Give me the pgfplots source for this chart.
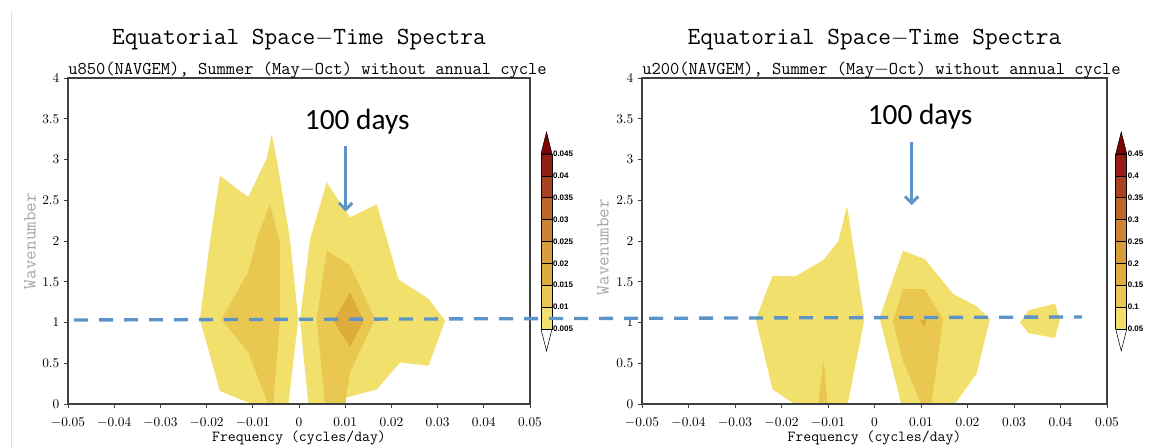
\documentclass[border=0pt]{standalone}
\usepackage{fontspec}
\usepackage{pgfplots}
\pgfplotsset{compat=1.18}
\usetikzlibrary{arrows.meta}
\newfontfamily\calibri{Carlito}
\newfontfamily\helv{Liberation Sans}

\definecolor{levA}{RGB}{242,224,108}
\definecolor{levB}{RGB}{233,199,80}
\definecolor{levC}{RGB}{222,172,60}
\definecolor{cbD}{RGB}{214,158,58}
\definecolor{cbE}{RGB}{203,132,52}
\definecolor{cbF}{RGB}{188,102,42}
\definecolor{cbG}{RGB}{168,66,32}
\definecolor{cbH}{RGB}{148,30,22}
\definecolor{cbTop}{RGB}{125,5,5}
\definecolor{annblue}{RGB}{92,147,200}

\pgfplotsset{
  spec/.style={
    scale only axis, anchor=south west,
    height=244.5pt,
    xmin=-0.05, xmax=0.05, ymin=0, ymax=4,
    xtick={-0.05,-0.04,-0.03,-0.02,-0.01,0,0.01,0.02,0.03,0.04,0.05},
    ytick={0,0.5,1,1.5,2,2.5,3,3.5,4},
    scaled x ticks=false,
    xticklabel style={/pgf/number format/fixed,/pgf/number format/precision=2,yshift=-4pt},
    tick label style={font=\fontsize{10}{12}\selectfont},
    tick align=outside, xtick pos=bottom, ytick pos=left,
    major tick length=3pt,
    axis line style={black!75,line width=0.8pt},
    tick style={black!75,line width=0.6pt},
    axis on top, clip=false,
    xlabel={\ttfamily\fontsize{11.5}{13}\selectfont Frequency (cycles/day)},
    xlabel style={at={(axis description cs:0.5,0)},anchor=center,yshift=-25.5pt},
  },
  cbar/.style={
    scale only axis, anchor=south west,
    width=8.25pt, height=131.25pt,
    xmin=0, xmax=1, clip=false,
    scaled y ticks=false,
    axis line style={draw=none}, xtick=\empty,
    yticklabel pos=right, major tick length=0pt,
    yticklabel style={font=\helv\bfseries\fontsize{6}{7}\selectfont,inner sep=0.6pt},
  },
}

\begin{document}
\begin{tikzpicture}
\useasboundingbox (0,0) rectangle (862.5pt,336pt);
\draw[black!12,line width=0.8pt] (8.5pt,0) -- (8.5pt,328pt);

% ---------- left panel: u850 ----------
\begin{axis}[spec, name=L, at={(51pt,33pt)}, width=346.5pt]
% 0.005-0.01
\addplot[fill=levA,draw=none] coordinates {
  (-0.00592,3.31)(-0.00484,3.01)(-0.00195,2.02)(-0.00014,1.04)(-0.00231,0)
  (-0.01026,0)(-0.01712,0.16)(-0.02146,1.04)(-0.01929,1.98)(-0.01712,2.80)
  (-0.01098,2.54)(-0.00701,3.01)(-0.00592,3.31)};
\addplot[fill=levA,draw=none] coordinates {
  (0.0060,2.72)(0.01105,2.29)(0.01684,2.45)(0.02153,1.53)(0.02803,1.29)
  (0.03165,1.02)(0.02803,0.47)(0.02189,0.51)(0.01684,0.18)(0.01033,0.08)
  (0.00997,0)(0.00202,0)(0.00022,1.04)(0.00238,2.02)(0.0060,2.72)};
% 0.01-0.015
\addplot[fill=levB,draw=none] coordinates {
  (-0.00629,2.45)(-0.00412,1.98)(-0.00412,1.04)(-0.00556,0)(-0.00665,0)
  (-0.01098,0.63)(-0.01676,1.04)(-0.01098,1.62)(-0.00918,2.02)(-0.00629,2.45)};
\addplot[fill=levB,draw=none] coordinates {
  (0.0060,1.88)(0.01105,1.70)(0.01647,1.04)(0.01105,0.39)(0.00997,0)
  (0.00564,0)(0.00383,1.04)(0.0060,1.88)};
% 0.015-0.02
\addplot[fill=levC,draw=none] coordinates {
  (0.01105,1.37)(0.01395,1.02)(0.01105,0.70)(0.00744,1.02)(0.01105,1.37)};
\draw[annblue,line width=2.2pt,-{Straight Barb[length=5pt,width=10pt]}]
  (axis cs:0.0101,3.16) -- (axis cs:0.0101,2.36);
\node[font=\calibri\fontsize{22}{24}\selectfont] at (axis cs:0.0126,3.46) {100 days};
\end{axis}

\begin{axis}[cbar, at={(405.75pt,89.25pt)}, ymin=0.005, ymax=0.045,
  ytick={0.005,0.01,0.015,0.02,0.025,0.03,0.035,0.04,0.045},
  yticklabels={0.005,0.01,0.015,0.02,0.025,0.03,0.035,0.04,0.045}]
\addplot[fill=white,draw=black,line width=0.4pt] coordinates {(0,0.005)(1,0.005)(0.5,0)(0,0.005)};
\addplot[fill=levA,draw=black,line width=0.4pt] coordinates {(0,0.005)(1,0.005)(1,0.01)(0,0.01)(0,0.005)};
\addplot[fill=levB,draw=black,line width=0.4pt] coordinates {(0,0.01)(1,0.01)(1,0.015)(0,0.015)(0,0.01)};
\addplot[fill=levC,draw=black,line width=0.4pt] coordinates {(0,0.015)(1,0.015)(1,0.02)(0,0.02)(0,0.015)};
\addplot[fill=cbD,draw=black,line width=0.4pt] coordinates {(0,0.02)(1,0.02)(1,0.025)(0,0.025)(0,0.02)};
\addplot[fill=cbE,draw=black,line width=0.4pt] coordinates {(0,0.025)(1,0.025)(1,0.03)(0,0.03)(0,0.025)};
\addplot[fill=cbF,draw=black,line width=0.4pt] coordinates {(0,0.03)(1,0.03)(1,0.035)(0,0.035)(0,0.03)};
\addplot[fill=cbG,draw=black,line width=0.4pt] coordinates {(0,0.035)(1,0.035)(1,0.04)(0,0.04)(0,0.035)};
\addplot[fill=cbH,draw=black,line width=0.4pt] coordinates {(0,0.04)(1,0.04)(1,0.045)(0,0.045)(0,0.04)};
\addplot[fill=cbTop,draw=black,line width=0.4pt] coordinates {(0,0.045)(1,0.045)(0.5,0.05)(0,0.045)};
\end{axis}

% ---------- right panel: u200 ----------
\begin{axis}[spec, name=R, at={(481.5pt,33pt)}, width=348.75pt]
% 0.05-0.1
\addplot[fill=levA,draw=none] coordinates {
  (-0.0059,2.43)(-0.00216,1.04)(-0.00576,0)(-0.01727,0)(-0.02194,0.18)
  (-0.02554,1.04)(-0.02194,1.57)(-0.01691,1.57)(-0.01094,1.77)(-0.00777,2.00)
  (-0.0059,2.43)};
\addplot[fill=levA,draw=none] coordinates {
  (0.00612,1.88)(0.01079,1.78)(0.01691,1.35)(0.02194,1.20)(0.02482,1.04)
  (0.02194,0.37)(0.01727,0)(0.00576,0)(0.00108,1.06)(0.00612,1.88)};
\addplot[fill=levA,draw=none] coordinates {
  (0.0313,1.00)(0.0331,1.15)(0.0388,1.23)(0.0399,1.04)(0.0388,0.81)
  (0.0331,0.87)(0.0313,1.00)};
% 0.1-0.15
\addplot[fill=levB,draw=none] coordinates {
  (-0.01094,0.53)(-0.01007,0)(-0.01209,0)(-0.01094,0.53)};
\addplot[fill=levB,draw=none] coordinates {
  (0.00612,1.41)(0.01079,1.41)(0.01475,1.04)(0.01223,0)(0.01007,0)
  (0.00612,0.53)(0.00396,1.02)(0.00612,1.41)};
% 0.15-0.2
\addplot[fill=levC,draw=none] coordinates {
  (0.0097,1.02)(0.01115,1.04)(0.0108,0.94)(0.0097,1.02)};
\draw[annblue,line width=2.2pt,-{Straight Barb[length=5pt,width=10pt]}]
  (axis cs:0.0080,3.21) -- (axis cs:0.0080,2.44);
\node[font=\calibri\fontsize{22}{24}\selectfont] at (axis cs:0.0098,3.53) {100 days};
\end{axis}

\begin{axis}[cbar, at={(836.8pt,89.25pt)}, ymin=0.05, ymax=0.45,
  ytick={0.05,0.1,0.15,0.2,0.25,0.3,0.35,0.4,0.45},
  yticklabels={0.05,0.1,0.15,0.2,0.25,0.3,0.35,0.4,0.45}]
\addplot[fill=white,draw=black,line width=0.4pt] coordinates {(0,0.05)(1,0.05)(0.5,0)(0,0.05)};
\addplot[fill=levA,draw=black,line width=0.4pt] coordinates {(0,0.05)(1,0.05)(1,0.1)(0,0.1)(0,0.05)};
\addplot[fill=levB,draw=black,line width=0.4pt] coordinates {(0,0.1)(1,0.1)(1,0.15)(0,0.15)(0,0.1)};
\addplot[fill=levC,draw=black,line width=0.4pt] coordinates {(0,0.15)(1,0.15)(1,0.2)(0,0.2)(0,0.15)};
\addplot[fill=cbD,draw=black,line width=0.4pt] coordinates {(0,0.2)(1,0.2)(1,0.25)(0,0.25)(0,0.2)};
\addplot[fill=cbE,draw=black,line width=0.4pt] coordinates {(0,0.25)(1,0.25)(1,0.3)(0,0.3)(0,0.25)};
\addplot[fill=cbF,draw=black,line width=0.4pt] coordinates {(0,0.3)(1,0.3)(1,0.35)(0,0.35)(0,0.3)};
\addplot[fill=cbG,draw=black,line width=0.4pt] coordinates {(0,0.35)(1,0.35)(1,0.4)(0,0.4)(0,0.35)};
\addplot[fill=cbH,draw=black,line width=0.4pt] coordinates {(0,0.4)(1,0.4)(1,0.45)(0,0.45)(0,0.4)};
\addplot[fill=cbTop,draw=black,line width=0.4pt] coordinates {(0,0.45)(1,0.45)(0.5,0.5)(0,0.45)};
\end{axis}

% titles and labels
\node[font=\ttfamily\fontsize{18.5}{20}\selectfont,anchor=base] at (224.25pt,302.25pt) {Equatorial Space$-$Time Spectra};
\node[font=\ttfamily\fontsize{18.5}{20}\selectfont,anchor=base] at (655.9pt,302.25pt) {Equatorial Space$-$Time Spectra};
\node[font=\ttfamily\fontsize{13.5}{15}\selectfont,anchor=base west,inner sep=0pt] at (51pt,280pt) {u850(NAVGEM), Summer (May$-$Oct) without annual cycle};
\node[font=\ttfamily\fontsize{13.5}{15}\selectfont,anchor=base west,inner sep=0pt] at (481.5pt,280pt) {u200(NAVGEM), Summer (May$-$Oct) without annual cycle};
\node[font=\ttfamily\fontsize{14}{16}\selectfont,text=black!35,rotate=90] at (22.5pt,155.25pt) {Wavenumber};
\node[font=\ttfamily\fontsize{14}{16}\selectfont,text=black!35,rotate=90] at (452.25pt,150.75pt) {Wavenumber};

% dashed line at wavenumber 1 across both panels
\draw[annblue,line width=2.5pt,dash pattern=on 10.5pt off 8.25pt] (55.5pt,96pt) -- (811.5pt,98.25pt);
\end{tikzpicture}
\end{document}
